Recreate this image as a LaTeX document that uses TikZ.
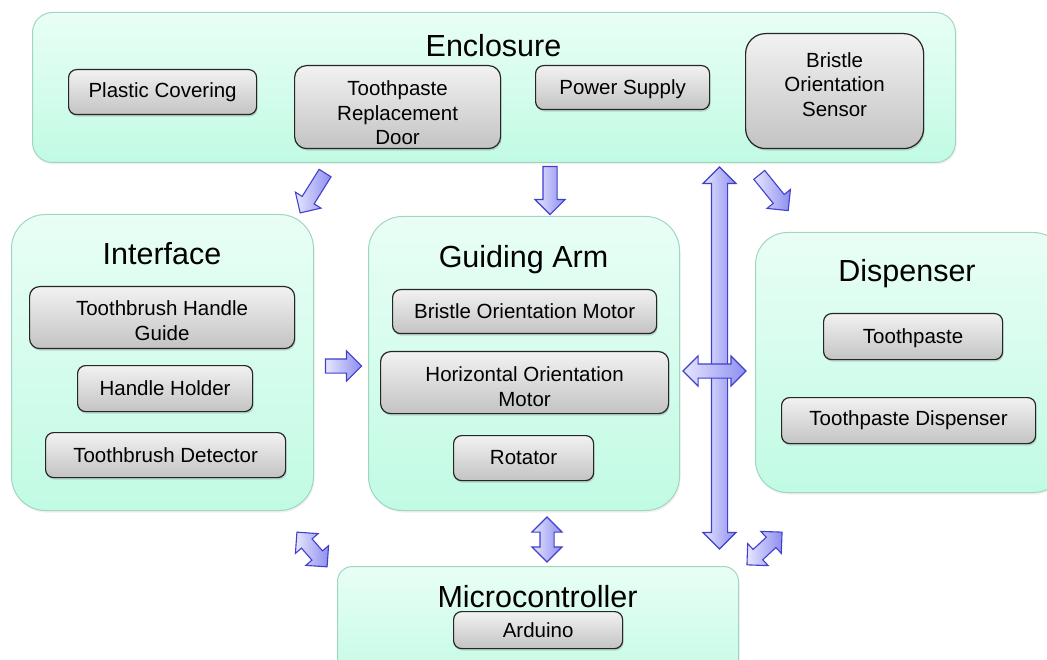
\documentclass[tikz,border=0pt]{standalone}
\usepackage{fontspec}
\setmainfont{Liberation Sans}
\usetikzlibrary{shapes.arrows,shadows}

\definecolor{mintTop}{HTML}{E9FEF5}
\definecolor{mintBottom}{HTML}{C1FBE4}
\definecolor{mintLine}{HTML}{A0D6C0}
\definecolor{partTop}{HTML}{F2F2F2}
\definecolor{partBottom}{HTML}{C3C3C3}
\definecolor{arrowTop}{HTML}{E6E6FF}
\definecolor{arrowBottom}{HTML}{8E8EF0}
\definecolor{arrowLine}{HTML}{4040CC}

\tikzset{
	group/.style={draw=mintLine, line width=1pt, top color=mintTop, bottom color=mintBottom,
		anchor=north west, inner sep=0pt, drop shadow={shadow xshift=1pt, shadow yshift=-2pt, opacity=.12}},
	grouptitle/.style={anchor=base, inner sep=0pt, font=\fontsize{30.5}{36}\selectfont},
	part/.style={draw=black!85, line width=1.2pt, top color=partTop, bottom color=partBottom,
		anchor=north west, inner sep=0pt,
		drop shadow={shadow xshift=1pt, shadow yshift=-2pt, opacity=.3}},
	parttext/.style={align=center, inner sep=0pt, font=\fontsize{20.5}{24.5}\selectfont},
	flow/.style={single arrow, single arrow head extend=8pt, inner xsep=0pt, inner ysep=6.5pt,
		draw=arrowLine, line width=1.1pt, left color=arrowTop, right color=arrowBottom},
	both/.style={double arrow, double arrow head extend=8pt, inner xsep=0pt, inner ysep=6.5pt,
		draw=arrowLine, line width=1.1pt, left color=arrowTop, right color=arrowBottom}
}

\begin{document}
\begin{tikzpicture}[x=1pt, y=-1pt]
\useasboundingbox (0,0) rectangle (1047,660);

\foreach \name/\corner/\w/\h/\r in {enc/{32,12}/923/150/20, int/{11,214}/302/296/34,
		ga/{368,216}/311/294/34, disp/{755,232}/310/260/32, micro/{337,566}/401/120/15}
	\node[group, minimum width=\w, minimum height=\h, rounded corners=\r] (\name) at (\corner) {};

\foreach \name/\pos/\text in {enc/{493.5,57}/Enclosure, int/{162,265}/Interface,
		ga/{523.5,268}/Guiding Arm, disp/{907,282}/Dispenser, micro/{537.5,607}/Microcontroller}
	\node[grouptitle] (\name-title) at (\pos) {\text};

% {name}{top left corner}{width}{height}{corner radius}{text shift}{text}
\foreach \name/\corner/\w/\h/\r/\dy/\text in {
		plastic/{68,69}/188/45/8/0/{Plastic Covering},
		door/{294,65}/206/83/12/-6/{Toothpaste\\Replacement\\Door},
		power/{535,65}/174/44/8/-1.5/{Power Supply},
		sensor/{745,33}/178/115/20/6.5/{Bristle\\Orientation\\Sensor},
		guide/{29,286}/265/62/10/-3/{Toothbrush Handle\\Guide},
		holder/{77,365}/175/46/8/0/{Handle Holder},
		detector/{45,432}/240/45/8/0/{Toothbrush Detector},
		motor/{392,289}/264/44/8/0/{Bristle Orientation Motor},
		hmotor/{380,351}/288/62/10/-4/{Horizontal Orientation\\Motor},
		rotator/{453,435}/140/45/8/1/{Rotator},
		paste/{823,313}/179/46/8/-1.5/{Toothpaste},
		pastedisp/{781,397}/254/46/8/0/{Toothpaste Dispenser},
		arduino/{453,611}/169/37/8/0/{Arduino}} {
	\node[part, minimum width=\w, minimum height=\h, rounded corners=\r] (\name) at (\corner) {};
	\node[parttext, yshift=\dy] (\name-text) at (\name) {\text};
}

\foreach \name/\pos/\len/\ang in {toint/{314.5,190}/47/-122, toga/{550,187}/48/-90,
		todisp/{771.5,190}/46/-51, intga/{340,366}/36/0}
	\node[flow, minimum height=\len, rotate=\ang] (\name) at (\pos) {};

\node[both, minimum height=382, rotate=-90, inner ysep=7.5pt, double arrow head extend=8.5pt] (bus) at (719.5,358) {};
\foreach \name/\pos/\len/\ang in {gadisp/{714.5,371}/63/0, intmicro/{312,549.5}/46/-49,
		gamicro/{547,539.5}/45/-90, dispmicro/{764.5,548.5}/48/43}
	\node[both, minimum height=\len, rotate=\ang] (\name) at (\pos) {};
\end{tikzpicture}
\end{document}
